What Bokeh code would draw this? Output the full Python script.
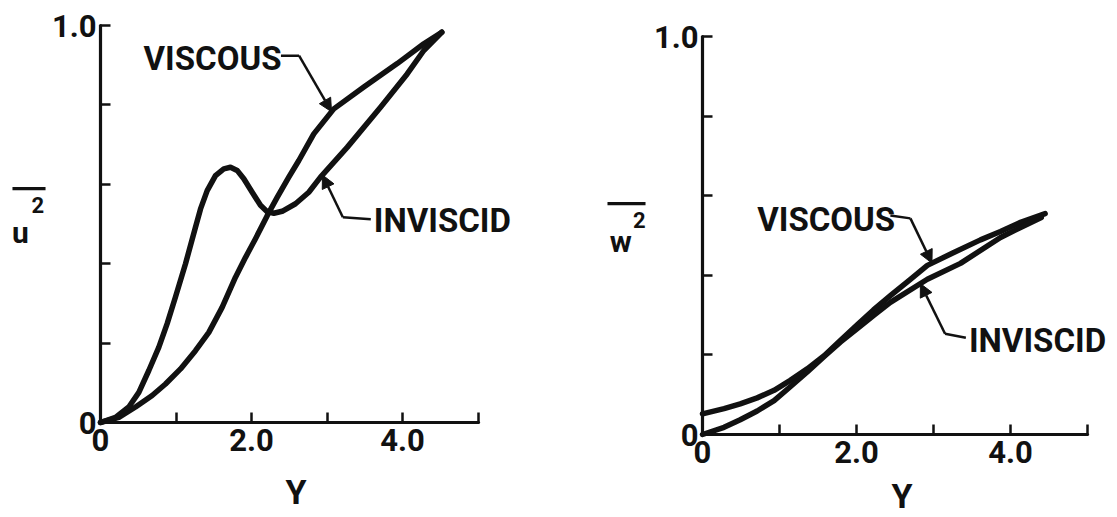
import numpy as np
from bokeh.plotting import figure
from bokeh.layouts import row
from bokeh.models import Range1d, FixedTicker, Label, Arrow, NormalHead, BoxAnnotation
from bokeh.embed import file_html
from bokeh.resources import INLINE

# ---- data: turbulence intensity vs. distance Y ----
# left panel: u'^2
u_visc_y = [0.0, 0.243, 0.464, 0.684, 0.861, 1.06, 1.258, 1.435, 1.611, 1.788, 1.921, 2.053, 2.208,
            2.34, 2.494, 2.627, 2.825, 3.09, 3.488, 3.93, 4.282, 4.52]
u_visc = [0.0, 0.013, 0.039, 0.068, 0.097, 0.135, 0.181, 0.227, 0.29, 0.366, 0.416, 0.463, 0.521,
          0.567, 0.618, 0.66, 0.727, 0.79, 0.845, 0.904, 0.954, 0.983]

u_invisc_y = [0.0, 0.199, 0.375, 0.508, 0.640, 0.773, 0.883, 0.993, 1.126, 1.258, 1.325, 1.413, 1.523,
              1.633, 1.722, 1.81, 1.898, 2.009, 2.119, 2.208, 2.296, 2.406, 2.583, 2.759, 2.914,
              3.267, 3.709, 4.062, 4.282, 4.52]
u_invisc = [0.0, 0.013, 0.039, 0.076, 0.131, 0.190, 0.249, 0.316, 0.400, 0.492, 0.538, 0.584, 0.622,
            0.639, 0.643, 0.635, 0.614, 0.580, 0.547, 0.531, 0.527, 0.532, 0.551, 0.580, 0.618,
            0.693, 0.794, 0.878, 0.937, 0.983]

# right panel: w'^2
w_visc_y = [0.0, 0.28, 0.49, 0.71, 0.93, 1.14, 1.36, 1.58, 1.79, 2.01, 2.22, 2.44, 2.70, 2.92,
            3.25, 3.61, 3.87, 4.13, 4.45]
w_visc = [0.052, 0.065, 0.077, 0.092, 0.111, 0.136, 0.165, 0.198, 0.236, 0.276, 0.313, 0.349, 0.39, 0.425,
          0.456, 0.489, 0.51, 0.533, 0.555]

w_invisc_y = [0.0, 0.28, 0.49, 0.71, 0.93, 1.14, 1.36, 1.58, 1.79, 2.01, 2.22, 2.44, 2.92, 3.35,
              3.87, 4.13, 4.40]
w_invisc = [0.0, 0.018, 0.037, 0.059, 0.085, 0.12, 0.157, 0.196, 0.232, 0.266, 0.299, 0.332, 0.39, 0.43,
            0.495, 0.52, 0.545]

x_ticks = [0, 1, 2, 3, 4, 5]
x_tick_labels = {0: "0", 1: "", 2: "2.0", 3: "", 4: "4.0", 5: ""}
y_ticks = [0, 0.2, 0.4, 0.6, 0.8, 1.0]
y_tick_labels = {0: "0", 0.2: "", 0.4: "", 0.6: "", 0.8: "", 1: "1.0"}

FONT = "Roboto"
INK = "#111111"


def panel(width, x0_px, x_unit, y0_px, y_unit):
    # the frame fills the whole canvas; axes sit at the data origin
    p = figure(width=width, height=517,
               x_range=Range1d(-x0_px / x_unit, (width - x0_px) / x_unit),
               y_range=Range1d(-(517 - y0_px) / y_unit, y0_px / y_unit),
               output_backend="svg", toolbar_location=None,
               min_border_left=0, min_border_right=0,
               min_border_top=0, min_border_bottom=0)
    p.outline_line_color = None
    p.xgrid.visible = False
    p.ygrid.visible = False
    p.background_fill_color = "white"
    p.border_fill_color = "white"
    for ax in (p.xaxis[0], p.yaxis[0]):
        ax.fixed_location = 0
        ax.axis_line_width = 3.2
        ax.axis_line_color = INK
        ax.axis_line_cap = "round"
        ax.major_tick_line_width = 2.5
        ax.major_tick_line_color = INK
        ax.major_tick_in = 10
        ax.major_tick_out = 0
        ax.minor_tick_line_color = None
        ax.major_label_text_font = FONT
        ax.major_label_text_font_style = "bold"
        ax.major_label_text_font_size = "31px"
        ax.major_label_text_color = INK
    p.xaxis.bounds = (0, 5)
    p.xaxis.ticker = FixedTicker(ticks=x_ticks)
    p.xaxis.major_label_overrides = x_tick_labels
    p.xaxis.major_label_standoff = 6
    p.yaxis.bounds = (0, 1)
    p.yaxis.ticker = FixedTicker(ticks=y_ticks)
    p.yaxis.major_label_overrides = y_tick_labels
    p.yaxis.major_label_standoff = 4
    return p


def text(p, x, y, s, size="33px", align="left"):
    p.add_layout(Label(x=x, y=y, text=s, text_font=FONT, text_font_style="bold",
                       text_font_size=size, text_color=INK,
                       text_align=align, text_baseline="middle"))


def leader(p, pts, tip):
    # bent leader line ending in an arrow at the curve
    xs = [q[0] for q in pts]
    ys = [q[1] for q in pts]
    p.line(xs, ys, line_width=2.5, line_color=INK, line_join="round")
    p.add_layout(Arrow(end=NormalHead(size=13, fill_color=INK, line_color=INK),
                       x_start=xs[-1], y_start=ys[-1], x_end=tip[0], y_end=tip[1],
                       line_width=2.5, line_color=INK))


def ylabel(p, sym, base, sup, bar):
    # mean-square symbol: letter, raised 2, and an overbar across both
    text(p, base[0], base[1], sym, size="30px", align="center")
    text(p, sup[0], sup[1], "2", size="22px", align="center")
    x_left, x_right, y_bar = bar
    p.add_layout(BoxAnnotation(left=x_left, right=x_right, bottom=y_bar - 0.004, top=y_bar + 0.004,
                               fill_color=INK, fill_alpha=1.0, line_color=None))


def curve(p, xs, ys):
    p.line(xs, ys, line_width=5.5, line_color=INK, line_join="round", line_cap="round")


# ---- left panel ----
pl = panel(560, 100, 75.5, 422, 397)
curve(pl, u_visc_y, u_visc)
curve(pl, u_invisc_y, u_invisc)

ylabel(pl, "u", (-1.06, 0.479), (-0.83, 0.547), (-1.166, -0.728, 0.589))
text(pl, 2.59, -0.175, "Y", size="34px", align="center")

text(pl, 0.57, 0.918, "VISCOUS")
tip_v = (3.06, float(np.interp(3.06, u_visc_y, u_visc)))
leader(pl, [(2.39, 0.924), (2.63, 0.924)], tip_v)

text(pl, 3.62, 0.509, "INVISCID")
tip_i = (2.94, float(np.interp(2.94, u_invisc_y, u_invisc)))
leader(pl, [(3.58, 0.512), (3.21, 0.517)], tip_i)

# ---- right panel ----
pr = panel(557, 142, 77, 434, 398)
curve(pr, w_visc_y, w_visc)
curve(pr, w_invisc_y, w_invisc)

ylabel(pr, "w", (-1.06, 0.485), (-0.82, 0.538), (-1.234, -0.74, 0.58))
text(pr, 2.59, -0.155, "Y", size="34px", align="center")

text(pr, 0.71, 0.54, "VISCOUS")
tip_wv = (2.98, float(np.interp(2.98, w_visc_y, w_visc)))
leader(pr, [(2.44, 0.55), (2.70, 0.543)], tip_wv)

text(pr, 3.46, 0.237, "INVISCID")
tip_wi = (2.83, float(np.interp(2.83, w_invisc_y, w_invisc)))
leader(pr, [(3.42, 0.243), (3.15, 0.253)], tip_wi)

layout = row(pl, pr)
open("out.html", "w").write(file_html(layout, INLINE))
